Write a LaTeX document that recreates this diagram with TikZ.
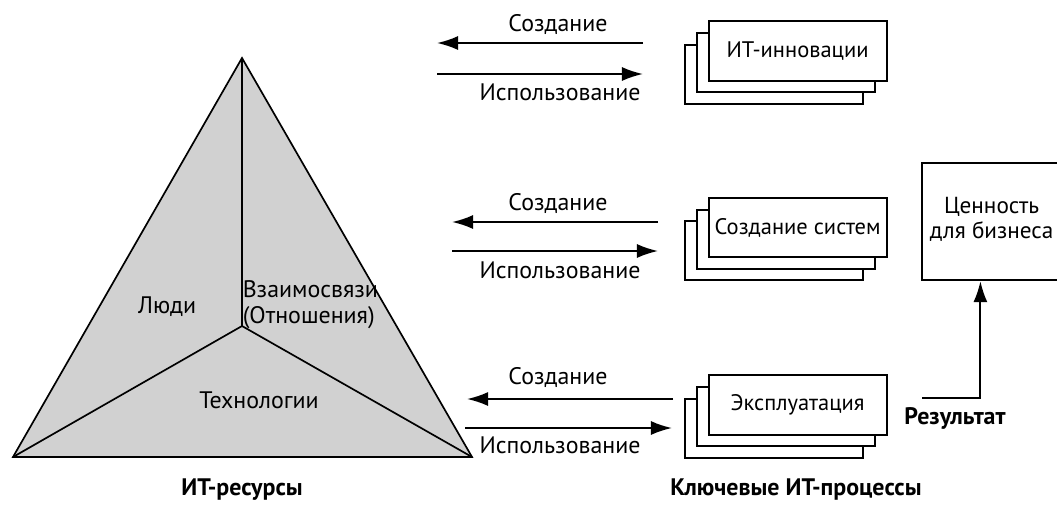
\documentclass[tikz,border=0pt]{standalone}
\usepackage{fontspec}
\setmainfont{PT Sans}
\usetikzlibrary{arrows.meta}

\begin{document}
\begin{tikzpicture}[
    lbl/.style={font=\fontsize{17}{18}\selectfont, inner sep=1pt},
    boldlbl/.style={font=\fontsize{17}{18}\selectfont\bfseries, inner sep=1pt},
    proc/.style={draw, fill=white, line width=1.4pt, minimum width=4.45cm, minimum height=1.48cm, font=\fontsize{16}{18}\selectfont, inner sep=2pt},
    arrow/.style={-{Latex[length=15pt,width=10pt]}, line width=1.4pt},
    edge/.style={line width=1.2pt}
  ]
  \useasboundingbox (0,0) rectangle (26.425,12.6);
  \clip (0,0) rectangle (26.425,12.6);

  % IT resources triangle
  \coordinate (apex) at (6.05,11.15);
  \coordinate (cornerl) at (0.325,1.175);
  \coordinate (cornerr) at (11.8,1.175);
  \coordinate (hub) at (6.05,4.45);
  \filldraw[fill=black!18, edge] (apex) -- (cornerl) -- (cornerr) -- cycle;
  \draw[edge] (apex) -- (hub) (hub) -- (cornerl) (hub) -- (cornerr);

  \node[lbl] (people) at (4.18,4.93) {Люди};
  \node[lbl, align=left] (links) at (7.76,4.98) {Взаимосвязи\\(Отношения)};
  \node[lbl] (tech) at (6.475,2.6) {Технологии};
  \node[boldlbl] (resources) at (6.05,0.35) {ИТ-ресурсы};

  % Stacks of key IT processes
  \node[proc] (innov3) at (19.36,10.74) {};
  \node[proc] (innov2) at (19.65,11.03) {};
  \node[proc] (innov) at (19.94,11.325) {ИТ-инновации};

  \node[proc] (build3) at (19.36,6.33) {};
  \node[proc] (build2) at (19.65,6.62) {};
  \node[proc] (build) at (19.94,6.91) {Создание систем};

  \node[proc] (oper3) at (19.36,1.895) {};
  \node[proc] (oper2) at (19.65,2.185) {};
  \node[proc] (oper) at (19.94,2.475) {Эксплуатация};

  \node[boldlbl] (processes) at (19.9,0.35) {Ключевые ИТ-процессы};

  % Create / use arrows
  \coordinate (mk1a) at (16.075,11.525);
  \coordinate (mk1b) at (10.925,11.525);
  \coordinate (use1a) at (10.925,10.75);
  \coordinate (use1b) at (16.075,10.75);
  \draw[arrow] (mk1a) -- (mk1b);
  \draw[arrow] (use1a) -- (use1b);
  \node[lbl] (mk1) at (13.95,11.975) {Создание};
  \node[lbl] (use1) at (14.0,10.3) {Использование};

  \coordinate (mk2a) at (16.45,7.05);
  \coordinate (mk2b) at (11.3,7.05);
  \coordinate (use2a) at (11.3,6.325);
  \coordinate (use2b) at (16.45,6.325);
  \draw[arrow] (mk2a) -- (mk2b);
  \draw[arrow] (use2a) -- (use2b);
  \node[lbl] (mk2) at (13.95,7.5) {Создание};
  \node[lbl] (use2) at (14.0,5.85) {Использование};

  \coordinate (mk3a) at (16.825,2.625);
  \coordinate (mk3b) at (11.675,2.625);
  \coordinate (use3a) at (11.625,1.9);
  \coordinate (use3b) at (16.8,1.9);
  \draw[arrow] (mk3a) -- (mk3b);
  \draw[arrow] (use3a) -- (use3b);
  \node[lbl] (mk3) at (13.95,3.15) {Создание};
  \node[lbl] (use3) at (14.0,1.475) {Использование};

  % Business value
  \node[draw, line width=1.4pt, minimum width=3.825cm, minimum height=2.925cm] (value) at (24.96,7.06) {};
  \node[lbl, align=center, font=\fontsize{16.5}{18}\selectfont] (valuetext) at (24.79,7.12) {Ценность\\для бизнеса};
  \node[boldlbl] (result) at (23.875,2.15) {Результат};
  \coordinate (resin) at (23.05,2.65);
  \draw[arrow] (resin) -| ([xshift=-0.45cm]value.south);

\end{tikzpicture}
\end{document}
